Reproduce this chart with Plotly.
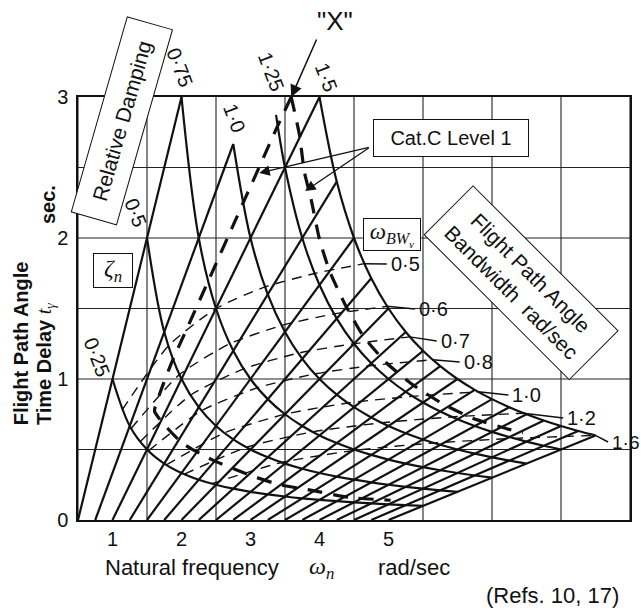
import plotly.graph_objects as go

# ---------------------------------------------------------------------------
# Carpet parameters
# ---------------------------------------------------------------------------
# relative damping carried by the descending curves
ZETA = [0.25, 0.5, 0.75, 1.0, 1.25, 1.5]
# natural frequency at which each damping curve begins
ZETA_FIRST_OMEGA = [0.5, 0.5, 0.5, 0.75, 0.87, 1.0]
ZETA_LABELS = ["0·25", "0·5", "0·75", "1·0", "1·25", "1·5"]

# natural frequency carried by the rising straight lines (rad/sec)
OMEGA_N = [0.5, 0.75, 1.0, 1.25, 1.5, 1.75, 2.0, 2.25, 2.5, 2.75,
           3.0, 3.25, 3.5, 3.75, 4.0, 4.25, 4.5, 4.75, 5.0]
# highest damping reached by each natural-frequency line
OMEGA_TOP_ZETA = [0.75, 1.0, 1.5, 1.5, 1.5, 1.5, 1.5, 1.5, 1.5, 1.5,
                  1.5, 1.5, 1.5, 1.5, 1.5, 1.5, 1.5, 1.5, 1.5]

# flight path angle bandwidth contours: natural frequency where each
# contour crosses the damping curves 0.25 ... 1.5
BW_LEVELS = [0.5, 0.6, 0.7, 0.8, 1.0, 1.2, 1.6]
BW_OMEGA = [
    [0.64, 0.81, 1.00, 1.21, 1.43, 1.65],
    [0.77, 0.97, 1.20, 1.45, 1.71, 1.98],
    [0.90, 1.13, 1.40, 1.69, 2.00, 2.31],
    [1.02, 1.29, 1.60, 1.93, 2.28, 2.64],
    [1.28, 1.62, 2.00, 2.41, 2.85, 3.30],
    [1.54, 1.94, 2.40, 2.90, 3.42, 3.96],
    [1.94, 2.45, 3.03, 3.66, 4.32, 5.00],
]

# Cat.C Level 1 boundary (chart x, time delay t_gamma)
LEVEL1_LEFT_X = [3.59, 3.37, 3.17, 2.94, 2.74, 2.52, 2.31, 2.09, 1.86, 1.68,
                 1.61, 2.00, 2.43, 2.98, 3.42, 3.89, 4.43, 5.03]
LEVEL1_LEFT_T = [3.00, 2.77, 2.55, 2.30, 2.08, 1.84, 1.61, 1.37, 1.12, 0.89,
                 0.77, 0.55, 0.43, 0.32, 0.25, 0.21, 0.16, 0.14]
LEVEL1_RIGHT_X = [3.59, 3.71, 3.78, 3.88, 4.00, 4.15, 4.38, 4.64, 4.98, 5.35,
                  5.80, 6.23, 6.77, 6.95]
LEVEL1_RIGHT_T = [3.00, 2.73, 2.47, 2.27, 1.99, 1.76, 1.52, 1.30, 1.11, 0.96,
                  0.82, 0.72, 0.64, 0.62]

X_TICKS = [1, 2, 3, 4, 5]
Y_TICKS = [0, 1, 2, 3]
X_GRID = [0.5, 1.5, 2.5, 3.5, 4.5, 5.5, 6.5, 7.5, 8.5]
Y_GRID = [0.5, 1.0, 1.5, 2.0, 2.5]

SANS = "Liberation Sans, Arial, sans-serif"
SERIF = "Liberation Serif, DejaVu Serif, serif"
INK = "#111111"

# plot area in page pixels
L, R, T, B = 78, 632, 97, 520
W, H = 641, 611


def carpet(omega, zeta):
    """Nomogram projection: shifted abscissa and time delay 2*zeta/omega."""
    return omega + 2.0 * zeta, 2.0 * zeta / omega


def px(x):
    return (x - L) / (R - L)


def py(y):
    return (B - y) / (B - T)


fig = go.Figure()

# rising lines of constant natural frequency
for om, ztop in zip(OMEGA_N, OMEGA_TOP_ZETA):
    x0, t0 = carpet(om, 0.0)
    x1, t1 = carpet(om, ztop)
    fig.add_trace(go.Scatter(x=[x0, x1], y=[t0, t1], mode="lines",
                             line=dict(color=INK, width=2.2),
                             hoverinfo="skip", showlegend=False))

# descending curves of constant relative damping
for z, om0 in zip(ZETA, ZETA_FIRST_OMEGA):
    oms = [om0] + [o for o in OMEGA_N if o > om0 + 1e-9]
    pts = [carpet(o, z) for o in oms]
    fig.add_trace(go.Scatter(x=[p[0] for p in pts], y=[p[1] for p in pts],
                             mode="lines",
                             line=dict(color=INK, width=2.2, shape="spline",
                                       smoothing=1.0),
                             hoverinfo="skip", showlegend=False))

# bandwidth contours (thin dashed)
bw_ends = []
for lvl, oms in zip(BW_LEVELS, BW_OMEGA):
    pts = [carpet(o, z) for o, z in zip(oms, ZETA)]
    bw_ends.append(pts[-1])
    fig.add_trace(go.Scatter(x=[p[0] for p in pts], y=[p[1] for p in pts],
                             mode="lines",
                             line=dict(color=INK, width=1.4, dash="10px,7px",
                                       shape="spline", smoothing=0.6),
                             hoverinfo="skip", showlegend=False))

# Cat.C Level 1 boundary (thick long dashes)
for xs, ts in ((LEVEL1_LEFT_X, LEVEL1_LEFT_T), (LEVEL1_RIGHT_X, LEVEL1_RIGHT_T)):
    fig.add_trace(go.Scatter(x=xs, y=ts, mode="lines",
                             line=dict(color=INK, width=3.2, dash="15px,11px",
                                       shape="spline", smoothing=0.5),
                             hoverinfo="skip", showlegend=False))

# grid
shapes = []
for gx in X_GRID:
    shapes.append(dict(type="line", xref="x", yref="y", x0=gx, x1=gx, y0=0, y1=3,
                       line=dict(color="#222222", width=1.1), layer="below"))
for gy in Y_GRID:
    shapes.append(dict(type="line", xref="x", yref="y", x0=0.5, x1=8.5, y0=gy, y1=gy,
                       line=dict(color="#222222", width=1.1), layer="below"))

annotations = []

# bandwidth labels with their short solid leaders
BW_LABEL_POS = [(390, 264), (418, 309), (440, 341), (463, 362), (512, 395),
                (567, 418), (612, 442)]
for lvl, (lx, ly), (ex, et) in zip(BW_LEVELS, BW_LABEL_POS, bw_ends):
    lab_x = 0.5 + (lx - 2 - L) / (R - L) * 8.0
    lab_t = (B - ly) / (B - T) * 3.0
    shapes.append(dict(type="line", xref="x", yref="y", x0=ex, y0=et,
                       x1=lab_x, y1=lab_t, line=dict(color=INK, width=1.5)))
    annotations.append(dict(xref="paper", yref="paper", x=px(lx), y=py(ly),
                            xanchor="left", yanchor="middle", showarrow=False,
                            text=f"{lvl:.1f}".replace(".", "·"),
                            font=dict(family=SANS, size=20 if lvl < 1.5 else 19,
                                      color=INK)))

# damping labels along the rising lines
ZETA_LABEL_POS = [(97, 357), (136, 213), (180, 67), (235, 118), (272, 72), (327, 77)]
for lab, (lx, ly) in zip(ZETA_LABELS, ZETA_LABEL_POS):
    annotations.append(dict(xref="paper", yref="paper", x=px(lx), y=py(ly),
                            xanchor="center", yanchor="middle", showarrow=False,
                            text=lab, textangle=69,
                            font=dict(family=SANS, size=20, color=INK)))


def note(text, x, y, size=21, angle=0, **kw):
    d = dict(xref="paper", yref="paper", x=px(x), y=py(y), xanchor="center",
             yanchor="middle", showarrow=False, text=text, textangle=angle,
             font=dict(family=SANS, size=size, color=INK))
    d.update(kw)
    annotations.append(d)


# boxed notes
note("Relative Damping", 122, 121, size=21, angle=-74, width=198, height=42,
     bgcolor="white", bordercolor=INK, borderwidth=1, borderpad=2)
note("Flight Path Angle<br>Bandwidth  rad/sec", 523, 283, size=21, angle=45,
     width=200, height=64, bgcolor="white", bordercolor=INK, borderwidth=1,
     borderpad=2)
note("Cat.C Level 1", 452, 138, size=20, width=150, height=32,
     bgcolor="white", bordercolor=INK, borderwidth=1, borderpad=2)
note(f'<span style="font-family:{SERIF}"><i>ζ</i><sub><i>n</i></sub></span>',
     113, 270, size=24, width=34, height=29, bgcolor="white",
     bordercolor=INK, borderwidth=1, borderpad=2)
note(f'<span style="font-family:{SERIF}"><i>ω</i><sub><i>BW</i><sub><i>γ</i></sub></sub></span>',
     393, 234, size=23, width=52, height=27, bgcolor="white",
     bordercolor=INK, borderwidth=1, borderpad=2)

# pointer arrows to the Level 1 boundary
for hx, hy in ((260, 173), (306, 191)):
    annotations.append(dict(xref="paper", yref="paper", x=px(hx), y=py(hy),
                            ax=371 - hx, ay=147 - hy, axref="pixel", ayref="pixel",
                            text="", showarrow=True, arrowhead=2, arrowsize=1.6,
                            arrowwidth=1.3, arrowcolor=INK))

# "X" marker with its arrow
note('"X"', 336, 21, size=26)
annotations.append(dict(xref="paper", yref="paper", x=px(292), y=py(97),
                        ax=318 - 292, ay=38 - 97, axref="pixel", ayref="pixel",
                        text="", showarrow=True, arrowhead=2, arrowsize=1.6,
                        arrowwidth=1.5, arrowcolor=INK))

# axis titles
note("<b>Flight Path Angle</b>", 21, 427, size=20, angle=-90, yanchor="bottom")
note(f'<b>Time Delay </b><span style="font-family:{SERIF}"><i>t</i><sub><i>γ</i></sub></span>',
     45, 427, size=20, angle=-90, yanchor="bottom")
note("<b>sec.</b>", 48, 205, size=20, angle=-90)
note("Natural frequency", 192, 567, size=22)
note(f'<span style="font-family:{SERIF}"><i>ω</i><sub><i>n</i></sub></span>',
     322, 568, size=24)
note("rad/sec", 415, 567, size=22)
note("(Refs. 10, 17)", 554, 595, size=22)

fig.update_layout(
    width=W, height=H, autosize=False,
    margin=dict(l=L, r=W - R, t=T, b=H - B, pad=0),
    paper_bgcolor="white", plot_bgcolor="white",
    shapes=shapes, annotations=annotations, showlegend=False,
    xaxis=dict(range=[0.5, 8.5], tickmode="array", tickvals=X_TICKS,
               ticktext=[str(v) for v in X_TICKS], showgrid=False, zeroline=False,
               showline=True, mirror=True, linecolor=INK, linewidth=1.5,
               ticks="", ticklabelstandoff=0,
               tickfont=dict(family=SANS, size=20, color=INK)),
    yaxis=dict(range=[0, 3], tickmode="array", tickvals=Y_TICKS,
               ticktext=[str(v) for v in Y_TICKS], showgrid=False, zeroline=False,
               showline=True, mirror=True, linecolor=INK, linewidth=1.5,
               ticks="", ticklabelstandoff=4,
               tickfont=dict(family=SANS, size=20, color=INK)),
)

fig.write_html("out.html")
